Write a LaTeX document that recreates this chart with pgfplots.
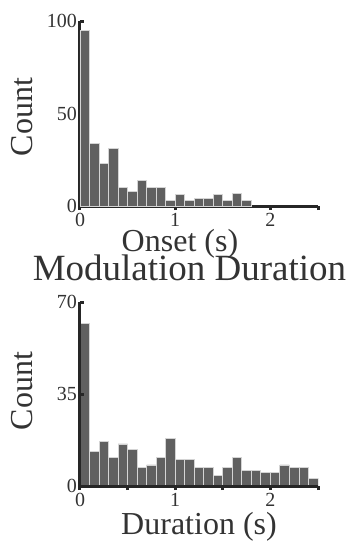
\documentclass[border=0pt]{standalone}
\usepackage{pgfplots}
\pgfplotsset{compat=1.18}
\usepackage{fontspec}
\setmainfont{Liberation Serif}
\definecolor{barfill}{HTML}{606060}
\definecolor{baredge}{HTML}{D4D4D4}
\definecolor{axcol}{HTML}{262626}
\pgfplotsset{
  hist/.style={
    scale only axis, width=238pt,
    axis lines=left, axis line style={-, line width=3pt, color=axcol},
    tick align=inside, major tick length=4pt,
    every tick/.style={line width=3pt, color=axcol},
    xmin=0, xmax=2.5, ymin=0, enlargelimits=false,
    /pgf/number format/assume math mode=true,
    tick label style={font=\fontsize{20}{22}\selectfont, color=black!80, inner sep=1pt},
    xticklabel style={yshift=-2pt},
    yticklabel style={xshift=-2pt},
    label style={font=\fontsize{32}{36}\selectfont, color=black!80, inner sep=0pt},
    ybar, bar width=0.1,
  },
  histbar/.style={fill=barfill, draw=baredge, line width=0.9pt},
}
\begin{document}
\begin{tikzpicture}
\useasboundingbox (0,0) rectangle (351pt,-549pt);
% top axis
\begin{axis}[hist, height=185pt, at={(80pt,-206pt)}, anchor=south west,
  ymax=100, ytick={0,50,100},
  xtick={0,1,2,2.5}, xticklabels={0,1,2,},
  ylabel={Count}, xlabel={Onset (s)},
  ylabel style={at={(axis description cs:-0.244,0.48)}, anchor=center},
  xlabel style={at={(axis description cs:0.42,-0.248)}, anchor=base},
]
\addplot[histbar] coordinates {
(0.05,95)(0.15,34)(0.25,23)(0.35,31)(0.45,10)(0.55,8)(0.65,14)(0.75,10)(0.85,10)
(0.95,3)(1.05,6)(1.15,3)(1.25,4)(1.35,4)(1.45,6)(1.55,3)(1.65,7)(1.75,3)
};
\end{axis}
% bottom axis
\begin{axis}[hist, height=184pt, at={(80pt,-486pt)}, anchor=south west, axis on top,
  ymax=70, ytick={0,35,70},
  xtick={0,0.5,1,1.5,2,2.5}, xticklabels={0,,1,,2,},
  ylabel={Count}, xlabel={Duration (s)},
  ylabel style={at={(axis description cs:-0.244,0.516)}, anchor=center},
  xlabel style={at={(axis description cs:0.5,-0.262)}, anchor=base},
  title={Modulation Duration},
  title style={at={(axis description cs:0.46,1.087)}, anchor=base, inner sep=0pt, font=\fontsize{37}{40}\selectfont, color=black!80},
]
\addplot[histbar] coordinates {
(0.05,62)(0.15,13)(0.25,17)(0.35,11)(0.45,16)(0.55,14)(0.65,7)(0.75,8)(0.85,11)
(0.95,18)(1.05,10)(1.15,10)(1.25,7)(1.35,7)(1.45,4)(1.55,7)(1.65,11)(1.75,6)
(1.85,6)(1.95,5)(2.05,5)(2.15,8)(2.25,7)(2.35,7)(2.45,3)
};
\end{axis}
\end{tikzpicture}
\end{document}
